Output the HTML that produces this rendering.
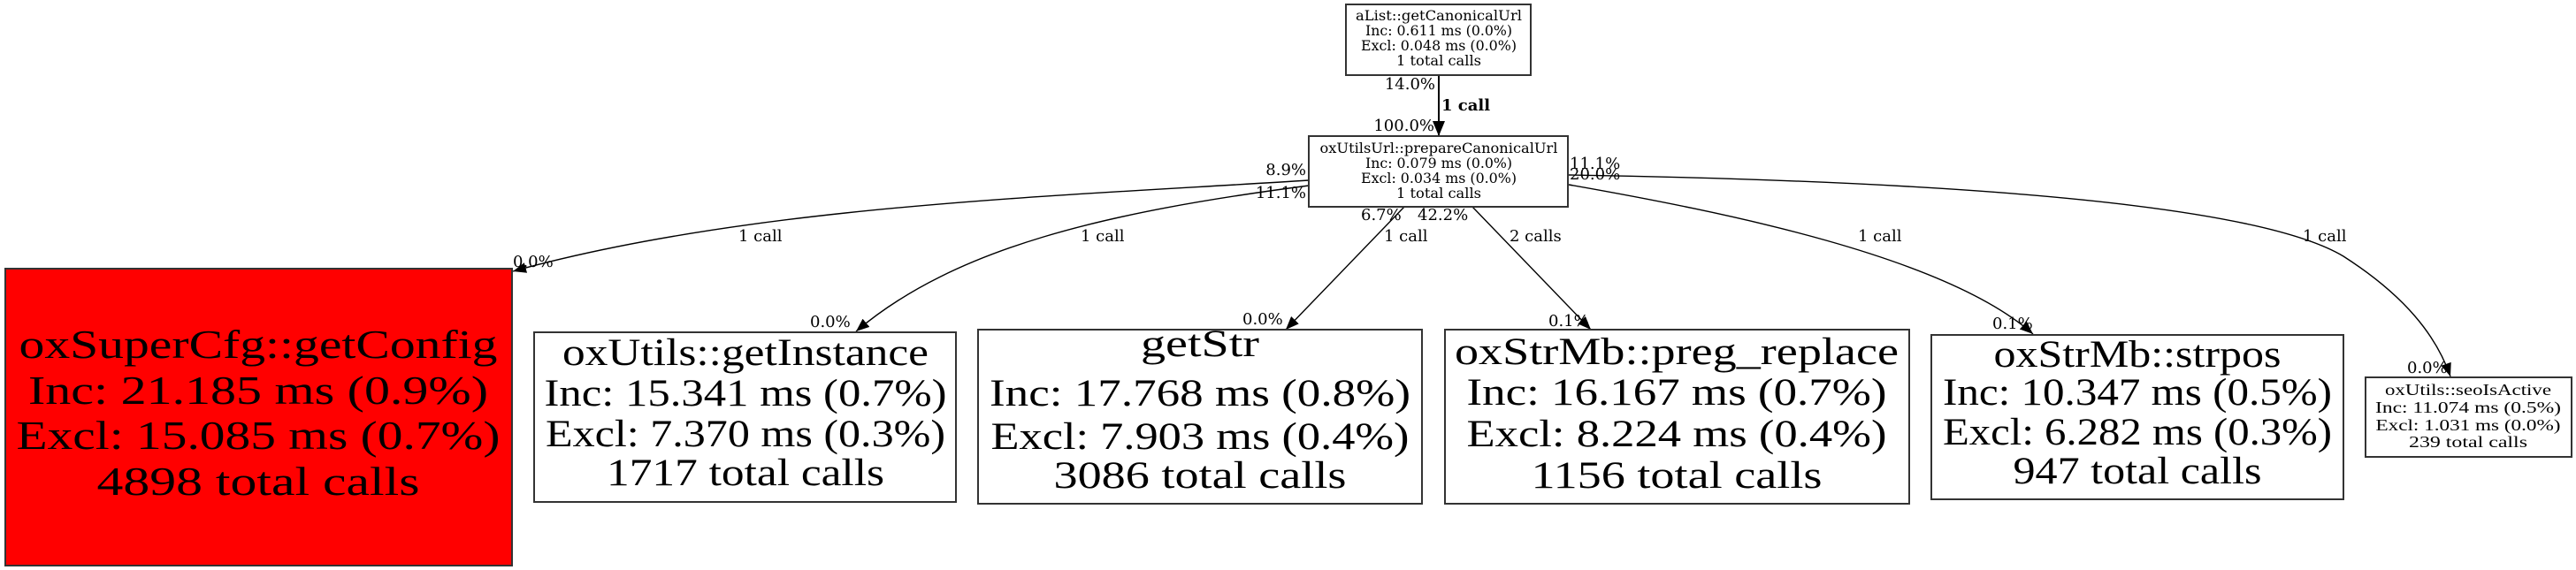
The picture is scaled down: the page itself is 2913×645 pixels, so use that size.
<!DOCTYPE html>
<html><head><meta charset="utf-8"><style>
html,body{margin:0;padding:0;background:#fff;}
svg{display:block;}
text{font-family:"DejaVu Serif","Liberation Serif",serif;fill:#000;}
.big{font-family:"Liberation Serif","DejaVu Serif",serif;}
</style></head><body>
<svg width="2913" height="645" viewBox="0 0 2913 645" xmlns="http://www.w3.org/2000/svg">
<defs>
<marker id="a" markerUnits="userSpaceOnUse" markerWidth="16" markerHeight="12" refX="15" refY="6" orient="auto"><path d="M0,0 L15,6 L0,12 z" fill="#000"/></marker>
<marker id="b" markerUnits="userSpaceOnUse" markerWidth="18" markerHeight="14" refX="17" refY="7" orient="auto"><path d="M0,0 L17,7 L0,14 z" fill="#000"/></marker>
</defs>
<g fill="none" stroke="#000" stroke-width="1.4">
<path d="M1627 85 L1627 154" stroke-width="2" marker-end="url(#b)"/>
<path d="M1480 204 C1200 222 850 232 580 307" marker-end="url(#a)"/>
<path d="M1480 210 C1250 240 1080 280 968 375" marker-end="url(#a)"/>
<path d="M1588 234 L1454 373" marker-end="url(#a)"/>
<path d="M1665 234 L1799 373" marker-end="url(#a)"/>
<path d="M1774 209 C1950 240 2200 290 2299 378" marker-end="url(#a)"/>
<path d="M1774 198 C2200 205 2550 230 2650 290 C2720 335 2755 380 2771 426" marker-end="url(#a)"/>
</g>
<g stroke="#333" stroke-width="2">
<rect x="1522" y="5" width="209" height="80" fill="#fff"/>
<rect x="1480" y="154" width="293" height="80" fill="#fff"/>
<rect x="6" y="304" width="573" height="336" fill="#ff0000"/>
<rect x="604" y="376" width="477" height="192" fill="#fff"/>
<rect x="1106" y="373" width="502" height="197" fill="#fff"/>
<rect x="1634" y="373" width="525" height="197" fill="#fff"/>
<rect x="2184" y="379" width="466" height="186" fill="#fff"/>
<rect x="2675" y="427" width="233" height="90" fill="#fff"/>
</g>
<g text-anchor="middle" font-size="16">
<text x="1627" y="23" textLength="188" lengthAdjust="spacingAndGlyphs">aList::getCanonicalUrl</text>
<text x="1627" y="40" textLength="166" lengthAdjust="spacingAndGlyphs">Inc: 0.611 ms (0.0%)</text>
<text x="1627" y="57" textLength="176" lengthAdjust="spacingAndGlyphs">Excl: 0.048 ms (0.0%)</text>
<text x="1627" y="74" textLength="96" lengthAdjust="spacingAndGlyphs">1 total calls</text>
<text x="1627" y="173" textLength="269" lengthAdjust="spacingAndGlyphs">oxUtilsUrl::prepareCanonicalUrl</text>
<text x="1627" y="190" textLength="166" lengthAdjust="spacingAndGlyphs">Inc: 0.079 ms (0.0%)</text>
<text x="1627" y="207" textLength="176" lengthAdjust="spacingAndGlyphs">Excl: 0.034 ms (0.0%)</text>
<text x="1627" y="224" textLength="96" lengthAdjust="spacingAndGlyphs">1 total calls</text>
</g>
<g text-anchor="middle" font-size="46">
<text class="big" x="292" y="405" textLength="541" lengthAdjust="spacingAndGlyphs">oxSuperCfg::getConfig</text>
<text class="big" x="292" y="457" textLength="520" lengthAdjust="spacingAndGlyphs">Inc: 21.185 ms (0.9%)</text>
<text class="big" x="292" y="508" textLength="547" lengthAdjust="spacingAndGlyphs">Excl: 15.085 ms (0.7%)</text>
<text class="big" x="292" y="560" textLength="365" lengthAdjust="spacingAndGlyphs">4898 total calls</text>
</g>
<g text-anchor="middle" font-size="43">
<text class="big" x="843" y="413" textLength="414" lengthAdjust="spacingAndGlyphs">oxUtils::getInstance</text>
<text class="big" x="843" y="459" textLength="455" lengthAdjust="spacingAndGlyphs">Inc: 15.341 ms (0.7%)</text>
<text class="big" x="843" y="505" textLength="452" lengthAdjust="spacingAndGlyphs">Excl: 7.370 ms (0.3%)</text>
<text class="big" x="843" y="549" textLength="314" lengthAdjust="spacingAndGlyphs">1717 total calls</text>
<text class="big" x="1357" y="403" textLength="134" lengthAdjust="spacingAndGlyphs">getStr</text>
<text class="big" x="1357" y="459" textLength="476" lengthAdjust="spacingAndGlyphs">Inc: 17.768 ms (0.8%)</text>
<text class="big" x="1357" y="508" textLength="473" lengthAdjust="spacingAndGlyphs">Excl: 7.903 ms (0.4%)</text>
<text class="big" x="1357" y="552" textLength="331" lengthAdjust="spacingAndGlyphs">3086 total calls</text>
<text class="big" x="1896" y="412" textLength="502" lengthAdjust="spacingAndGlyphs">oxStrMb::preg_replace</text>
<text class="big" x="1896" y="458" textLength="475" lengthAdjust="spacingAndGlyphs">Inc: 16.167 ms (0.7%)</text>
<text class="big" x="1896" y="505" textLength="475" lengthAdjust="spacingAndGlyphs">Excl: 8.224 ms (0.4%)</text>
<text class="big" x="1896" y="552" textLength="329" lengthAdjust="spacingAndGlyphs">1156 total calls</text>
<text class="big" x="2417" y="415" textLength="325" lengthAdjust="spacingAndGlyphs">oxStrMb::strpos</text>
<text class="big" x="2417" y="458" textLength="440" lengthAdjust="spacingAndGlyphs">Inc: 10.347 ms (0.5%)</text>
<text class="big" x="2417" y="503" textLength="440" lengthAdjust="spacingAndGlyphs">Excl: 6.282 ms (0.3%)</text>
<text class="big" x="2417" y="547" textLength="281" lengthAdjust="spacingAndGlyphs">947 total calls</text>
</g>
<g text-anchor="middle" font-size="18">
<text class="big" x="2791" y="447" textLength="188" lengthAdjust="spacingAndGlyphs">oxUtils::seoIsActive</text>
<text class="big" x="2791" y="467" textLength="210" lengthAdjust="spacingAndGlyphs">Inc: 11.074 ms (0.5%)</text>
<text class="big" x="2791" y="487" textLength="209" lengthAdjust="spacingAndGlyphs">Excl: 1.031 ms (0.0%)</text>
<text class="big" x="2791" y="506" textLength="134" lengthAdjust="spacingAndGlyphs">239 total calls</text>
</g>
<g font-size="18">
<text x="1623" y="101" text-anchor="end">14.0%</text>
<text x="1630" y="125" font-weight="bold">1 call</text>
<text x="1622" y="148" text-anchor="end">100.0%</text>
<text x="1477" y="198" text-anchor="end">8.9%</text>
<text x="1477" y="224" text-anchor="end">11.1%</text>
<text x="1775" y="191">11.1%</text>
<text x="1775" y="203">20.0%</text>
<text x="1539" y="249">6.7%</text>
<text x="1603" y="249">42.2%</text>
<text x="1565" y="273">1 call</text>
<text x="1707" y="273">2 calls</text>
<text x="835" y="273">1 call</text>
<text x="1222" y="273">1 call</text>
<text x="2101" y="273">1 call</text>
<text x="2604" y="273">1 call</text>
<text x="580" y="302">0.0%</text>
<text x="916" y="370">0.0%</text>
<text x="1405" y="367">0.0%</text>
<text x="1751" y="369">0.1%</text>
<text x="2253" y="372">0.1%</text>
<text x="2722" y="422">0.0%</text>
</g>
</svg>
</body></html>
